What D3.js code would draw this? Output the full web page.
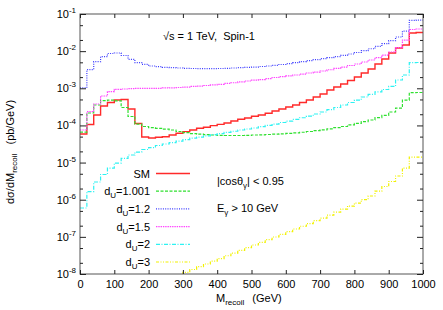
<!DOCTYPE html>
<html><head><meta charset="utf-8">
<script src="https://cdnjs.cloudflare.com/ajax/libs/d3/7.8.5/d3.min.js"></script>
<style>
html,body{margin:0;padding:0;background:#fff;}
svg{display:block;font-family:"Liberation Sans",Arial,sans-serif;}
</style></head><body>
<svg id="chart" width="443" height="310"></svg>
<script>
// ---- data (20 GeV bins, lower edges 0..980) ----
const binEdges = d3.range(0, 1001, 20);
const sm = [5.9e-5,1.06e-4,1.91e-4,3.34e-4,4.14e-4,4.83e-4,4.99e-4,2.77e-4,1.13e-4,4.87e-5,
  4.58e-5,4.79e-5,4.97e-5,5.53e-5,6.14e-5,6.8e-5,7.54e-5,8.37e-5,8.91e-5,9.85e-5,
  1.07e-4,1.16e-4,1.31e-4,1.46e-4,1.58e-4,1.76e-4,1.91e-4,2.12e-4,2.44e-4,2.77e-4,
  3.13e-4,3.55e-4,4.14e-4,4.83e-4,5.82e-4,7.02e-4,9.0e-4,1.08e-3,1.30e-3,1.62e-3,
  2.01e-3,2.58e-3,3.31e-3,4.5e-3,6.13e-3,8.9e-3,1.21e-2,1.46e-2,3.08e-2,3.18e-2];
const du1001 = [6.63e-5,2.16e-4,3.55e-4,4.63e-4,4.83e-4,4.6e-4,3.04e-4,1.74e-4,1.09e-4,9.36e-5,
  8.7e-5,8.37e-5,7.93e-5,7.54e-5,6.86e-5,6.44e-5,6.05e-5,5.8e-5,5.63e-5,5.53e-5,
  5.42e-5,5.35e-5,5.35e-5,5.35e-5,5.42e-5,5.53e-5,5.6e-5,5.7e-5,5.8e-5,5.95e-5,
  6.13e-5,6.32e-5,6.56e-5,6.86e-5,7.22e-5,7.63e-5,8.11e-5,8.7e-5,9.36e-5,1.03e-4,
  1.13e-4,1.27e-4,1.4e-4,1.63e-4,1.87e-4,2.3e-4,2.94e-4,4.83e-4,7.6e-4,7.7e-4];
const du12 = [1.03e-3,3.18e-3,5.19e-3,7.1e-3,8.65e-3,8.9e-3,7.63e-3,6.03e-3,4.89e-3,4.42e-3,
  3.98e-3,3.81e-3,3.67e-3,3.58e-3,3.52e-3,3.45e-3,3.41e-3,3.37e-3,3.37e-3,3.37e-3,
  3.41e-3,3.45e-3,3.52e-3,3.58e-3,3.67e-3,3.73e-3,3.86e-3,3.98e-3,4.16e-3,4.37e-3,
  4.59e-3,4.89e-3,5.19e-3,5.53e-3,5.88e-3,6.25e-3,6.65e-3,7.1e-3,7.73e-3,8.38e-3,
  9.18e-3,1.03e-2,1.16e-2,1.35e-2,1.59e-2,1.91e-2,2.4e-2,3.48e-2,6.7e-2,6.88e-2];
const du15 = [7.54e-5,2.34e-4,3.77e-4,6.2e-4,8.1e-4,9.4e-4,9.56e-4,9.75e-4,9.9e-4,9.9e-4,
  9.9e-4,1.0e-3,1.02e-3,1.03e-3,1.05e-3,1.08e-3,1.12e-3,1.15e-3,1.19e-3,1.23e-3,
  1.28e-3,1.35e-3,1.41e-3,1.48e-3,1.57e-3,1.65e-3,1.72e-3,1.83e-3,1.95e-3,2.05e-3,
  2.17e-3,2.28e-3,2.42e-3,2.58e-3,2.74e-3,2.92e-3,3.16e-3,3.45e-3,3.73e-3,4.11e-3,
  4.5e-3,5.1e-3,5.77e-3,6.65e-3,7.86e-3,9.48e-3,1.25e-2,1.99e-2,3.83e-2,3.95e-2];
const du2 = [5.98e-7,1.66e-6,3.0e-6,4.77e-6,7.13e-6,9.72e-6,1.29e-5,1.6e-5,1.92e-5,2.25e-5,
  2.54e-5,2.88e-5,3.16e-5,3.46e-5,3.8e-5,4.17e-5,4.53e-5,4.87e-5,5.24e-5,5.66e-5,
  6.05e-5,6.52e-5,6.98e-5,7.54e-5,8.02e-5,8.53e-5,9.24e-5,1.0e-4,1.09e-4,1.2e-4,
  1.31e-4,1.46e-4,1.61e-4,1.79e-4,2.03e-4,2.3e-4,2.68e-4,3.04e-4,3.55e-4,4.14e-4,
  4.83e-4,5.82e-4,6.82e-4,7.96e-4,9.27e-4,1.12e-3,1.67e-3,2.28e-3,4.89e-3,4.94e-3];
const du3 = [null,null,null,null,null,null,null,null,null,null,
  null,null,null,null,8e-9,1.1e-8,1.32e-8,1.57e-8,1.86e-8,2.21e-8,
  2.61e-8,3.1e-8,3.67e-8,4.34e-8,5.13e-8,6.03e-8,7.13e-8,8.38e-8,9.9e-8,1.17e-7,
  1.38e-7,1.63e-7,1.93e-7,2.28e-7,2.72e-7,3.21e-7,3.87e-7,4.66e-7,5.61e-7,6.76e-7,
  8.14e-7,1.01e-6,1.26e-6,1.71e-6,2.27e-6,3.09e-6,4.35e-6,7.13e-6,1.41e-5,1.41e-5];

const seriesNames = ["SM","d_U=1.001","d_U=1.2","d_U=1.5","d_U=2","d_U=3"];
const legendSubs = [null,"1.001","1.2","1.5","2","3"];
const seriesData = [sm, du1001, du12, du15, du2, du3];
const seriesColors = ["#ff2a2a","#2fe02f","#3a3aff","#ff45ff","#2ef2f2","#f2f200"];
const seriesDash = [null,"3,1.5","1,1.3","1.4,0.9","4,1.5,1,1.5","3,1.5,1,1.5,1,1.5"];
const xTicks = d3.range(0, 1001, 100);
const yDecades = [-8,-7,-6,-5,-4,-3,-2,-1];

// ---- layout ----
const svg = d3.select("#chart");
const L = 80, R = 423, T = 14, B = 274;
const x = d3.scaleLinear().domain([0, 1000]).range([L, R]);
const y = d3.scaleLog().domain([1e-8, 1e-1]).range([B, T]);

svg.append("defs").append("clipPath").attr("id","clip")
  .append("rect").attr("x",L).attr("y",T).attr("width",R-L).attr("height",B-T);

// series
const g = svg.append("g").attr("clip-path","url(#clip)");
seriesData.forEach((vals, i) => {
  const pts = vals.map((v, k) => ({m: binEdges[k], v}));
  pts.push({m: 1000, v: vals[vals.length - 1]});
  const line = d3.line().defined(d => d.v != null)
    .x(d => x(d.m)).y(d => y(d.v)).curve(d3.curveStepAfter);
  g.append("path").attr("d", line(pts)).attr("fill","none")
    .attr("stroke", seriesColors[i]).attr("stroke-width", i === 0 ? 1.4 : 1.2)
    .attr("stroke-dasharray", seriesDash[i]);
});

// frame
const frameColor = "#555";
svg.append("rect").attr("x",L).attr("y",T).attr("width",R-L).attr("height",B-T)
  .attr("fill","none").attr("stroke",frameColor).attr("stroke-width",1);

// x ticks (bottom & top)
const xAxisB = d3.axisBottom(x).tickValues(xTicks).tickSize(-4).tickPadding(6).tickFormat(d3.format("d"));
const gxb = svg.append("g").attr("transform",`translate(0,${B})`).call(xAxisB);
const xAxisT = d3.axisTop(x).tickValues(xTicks).tickSize(-4).tickFormat("");
const gxt = svg.append("g").attr("transform",`translate(0,${T})`).call(xAxisT);

// y ticks (left & right), majors and minors at 2 and 5
const yMinor = [];
yDecades.forEach(e => { if (e < -1) { yMinor.push(2 * Math.pow(10, e)); yMinor.push(5 * Math.pow(10, e)); } });
const yMajor = yDecades.map(e => Math.pow(10, e));
const gyl = svg.append("g").attr("transform",`translate(${L},0)`)
  .call(d3.axisLeft(y).tickValues(yMajor).tickSize(-6).tickFormat(""));
const gyr = svg.append("g").attr("transform",`translate(${R},0)`)
  .call(d3.axisRight(y).tickValues(yMajor).tickSize(-6).tickFormat(""));
const gylm = svg.append("g").attr("transform",`translate(${L},0)`)
  .call(d3.axisLeft(y).tickValues(yMinor).tickSize(-3).tickFormat(""));
const gyrm = svg.append("g").attr("transform",`translate(${R},0)`)
  .call(d3.axisRight(y).tickValues(yMinor).tickSize(-3).tickFormat(""));
[gxb,gxt,gyl,gyr,gylm,gyrm].forEach(a => {
  a.select(".domain").remove();
  a.selectAll(".tick line").attr("stroke","#222");
});
gxb.selectAll(".tick text").attr("font-size",11).attr("fill","#000")
  .attr("font-family","Liberation Sans, Arial, sans-serif");

// y tick labels 10^e
yDecades.forEach(e => {
  const t = svg.append("text").attr("x", 76).attr("y", y(Math.pow(10, e)) + 4)
    .attr("text-anchor","end").attr("font-size",11).attr("fill","#000");
  t.append("tspan").text("10");
  t.append("tspan").attr("font-size",8).attr("dy",-5).text(String(e));
});

// axis titles
const yt = svg.append("text").attr("transform","translate(14,152) rotate(-90)")
  .attr("text-anchor","middle").attr("font-size",11).attr("fill","#000");
yt.append("tspan").text("dσ/dM");
yt.append("tspan").attr("font-size",8).attr("dy",3).text("recoil");
yt.append("tspan").attr("dy",-3).attr("xml:space","preserve").text("   (pb/GeV)");

const xt = svg.append("text").attr("x",216).attr("y",302).attr("font-size",11).attr("fill","#000");
xt.append("tspan").text("M");
xt.append("tspan").attr("font-size",8).attr("dy",3).text("recoil");
xt.append("tspan").attr("dy",-3).attr("dx",8).text("(GeV)");

// annotations
svg.append("text").attr("x",163).attr("y",40).attr("font-size",11).attr("fill","#000")
  .attr("xml:space","preserve").text("√s = 1 TeV,  Spin-1");
const c1 = svg.append("text").attr("x",217).attr("y",185).attr("font-size",11).attr("fill","#000");
c1.append("tspan").text("|cosθ");
c1.append("tspan").attr("font-size",8).attr("dy",3).text("γ");
c1.append("tspan").attr("dy",-3).text("| < 0.95");
const c2 = svg.append("text").attr("x",217).attr("y",212).attr("font-size",11).attr("fill","#000");
c2.append("tspan").text("E");
c2.append("tspan").attr("font-size",8).attr("dy",3).text("γ");
c2.append("tspan").attr("dy",-3).text(" > 10 GeV");

// legend
const legY0 = 173.5, legDy = 17.7;
seriesNames.forEach((name, i) => {
  const yy = legY0 + i * legDy;
  const t = svg.append("text").attr("x",150).attr("y",yy + 4).attr("text-anchor","end")
    .attr("font-size",11).attr("fill","#000");
  if (legendSubs[i] === null) {
    t.text(name);
  } else {
    t.append("tspan").text("d");
    t.append("tspan").attr("font-size",8).attr("dy",3).text("U");
    t.append("tspan").attr("dy",-3).text("=" + legendSubs[i]);
  }
  svg.append("line").attr("x1",156).attr("x2",190).attr("y1",yy).attr("y2",yy)
    .attr("stroke",seriesColors[i]).attr("stroke-width", i === 0 ? 1.4 : 1.2)
    .attr("stroke-dasharray",seriesDash[i]);
});
</script>
</body></html>
